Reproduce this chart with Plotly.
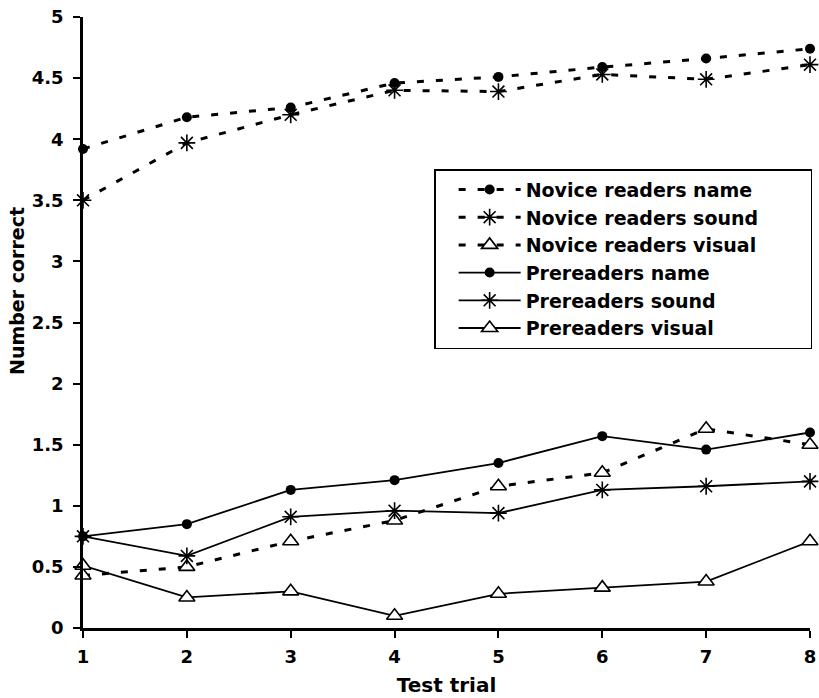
import plotly.graph_objects as go

trials = [1, 2, 3, 4, 5, 6, 7, 8]
novice_name = [3.92, 4.18, 4.26, 4.46, 4.51, 4.59, 4.66, 4.74]
novice_sound = [3.50, 3.97, 4.20, 4.40, 4.39, 4.53, 4.49, 4.61]
novice_visual = [0.43, 0.50, 0.71, 0.88, 1.16, 1.27, 1.63, 1.50]
pre_name = [0.75, 0.85, 1.13, 1.21, 1.35, 1.57, 1.46, 1.60]
pre_sound = [0.75, 0.59, 0.91, 0.96, 0.94, 1.13, 1.16, 1.20]
pre_visual = [0.51, 0.25, 0.30, 0.10, 0.28, 0.33, 0.38, 0.71]
y_ticks = [0, 0.5, 1, 1.5, 2, 2.5, 3, 3.5, 4, 4.5, 5]
y_tick_labels = ["0", "0.5", "1", "1.5", "2", "2.5", "3", "3.5", "4", "4.5", "5"]

series = [
    ("Novice readers name", novice_name, "dash", "circle"),
    ("Novice readers sound", novice_sound, "dash", "asterisk"),
    ("Novice readers visual", novice_visual, "dash", "triangle"),
    ("Prereaders name", pre_name, "solid", "circle"),
    ("Prereaders sound", pre_sound, "solid", "asterisk"),
    ("Prereaders visual", pre_visual, "solid", "triangle"),
]

fig = go.Figure()
for name, vals, dash, sym in series:
    if dash == "dash":
        line = dict(color="black", width=3, dash="7px,12px")
    else:
        line = dict(color="black", width=1.8)
    if sym == "circle":
        marker = dict(symbol="circle", size=10, color="black")
    elif sym == "asterisk":
        marker = dict(symbol="asterisk-open", size=14, color="black",
                      line=dict(color="black", width=1.6))
    else:
        marker = dict(symbol="triangle-up", size=14, color="white",
                      line=dict(color="black", width=1.6))
    fig.add_trace(go.Scatter(x=trials, y=vals, name=name, mode="lines+markers",
                             line=line, marker=marker, cliponaxis=False))

font_family = "DejaVu Sans, Liberation Sans, sans-serif"
fig.update_layout(
    width=819, height=698,
    margin=dict(l=83, r=9, t=17, b=70, autoexpand=False),
    plot_bgcolor="white", paper_bgcolor="white",
    font=dict(family=font_family, color="black", size=18, weight="bold"),
    showlegend=True,
    legend=dict(x=0.483, y=0.751, xanchor="left", yanchor="top",
                orientation="h", entrywidth=280, entrywidthmode="pixels",
                bordercolor="black", borderwidth=1.5, bgcolor="white",
                font=dict(size=19, weight="bold", family=font_family),
                tracegroupgap=0, itemwidth=62, indentation=18),
    xaxis=dict(range=[1, 8], tickvals=trials, showline=True, linecolor="black",
               linewidth=2.5, ticks="outside", ticklen=7, tickwidth=2,
               tickcolor="black", showgrid=False, zeroline=False,
               automargin=False, ticklabelstandoff=4,
               tickfont=dict(size=18, weight="bold"),
               title=dict(text="Test trial", font=dict(size=20, weight="bold"),
                          standoff=12)),
    yaxis=dict(range=[0, 5], tickvals=y_ticks, ticktext=y_tick_labels,
               showline=True, linecolor="black", linewidth=2.5, ticks="outside",
               ticklen=7, tickwidth=2, tickcolor="black", showgrid=False,
               zeroline=False, automargin=False,
               tickfont=dict(size=18, weight="bold"),
               ticklabelstandoff=6),
    annotations=[dict(text="Number correct", textangle=-90, showarrow=False,
                      xref="paper", yref="paper", x=-0.0908, y=0.5516,
                      xanchor="center", yanchor="middle",
                      font=dict(size=19, weight="bold", family=font_family))],
)

fig.write_html("out.html")
